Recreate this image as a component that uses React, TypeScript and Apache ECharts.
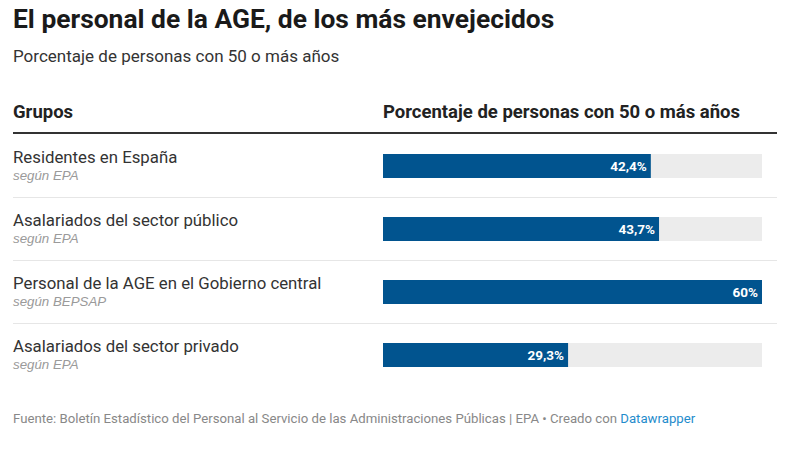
import React, { useEffect, useRef } from "react";
import * as echarts from "echarts";

const groups = [
  "Residentes en España",
  "Asalariados del sector público",
  "Personal de la AGE en el Gobierno central",
  "Asalariados del sector privado",
];
const sources = ["según EPA", "según EPA", "según BEPSAP", "según EPA"];
const values = [42.4, 43.7, 60, 29.3];
const axisMax = 60;

const titleText = "El personal de la AGE, de los más envejecidos";
const subtitleText = "Porcentaje de personas con 50 o más años";
const colHeaders = ["Grupos", "Porcentaje de personas con 50 o más años"];
const footerText = "Fuente: Boletín Estadístico del Personal al Servicio de las Administraciones Públicas | EPA • Creado con ";
const footerLink = "Datawrapper";

const FONT = "Roboto, 'Noto Sans', sans-serif";
const ITALIC_FONT = "'Liberation Sans', Arial, sans-serif";

export default function App() {
  const ref = useRef<HTMLDivElement>(null);
  useEffect(() => {
    if (!ref.current) return;
    const chart = echarts.init(ref.current, undefined, { renderer: "svg" });
    const gridTop = 134.5;
    const rowH = 63;
    const sepLines = groups.slice(1).map((_, i) => ({
      type: "line",
      shape: { x1: 13, y1: gridTop + rowH * (i + 1), x2: 777, y2: gridTop + rowH * (i + 1) },
      style: { stroke: "#e6e6e6", lineWidth: 1 },
      silent: true,
    }));
    chart.setOption({
      animation: false,
      backgroundColor: "#ffffff",
      textStyle: { fontFamily: FONT },
      title: {
        text: titleText,
        subtext: subtitleText,
        left: 13,
        top: 4,
        padding: 0,
        itemGap: 12,
        textStyle: { fontFamily: FONT, fontSize: 26.4, fontWeight: "bold", color: "#1a1a1a", lineHeight: 30 },
        subtextStyle: { fontFamily: FONT, fontSize: 17, color: "#333333", lineHeight: 20 },
      },
      graphic: [
        {
          type: "text",
          x: 13,
          y: 112,
          style: { text: colHeaders[0], font: `bold 18.5px ${FONT}`, fill: "#222222", verticalAlign: "middle" },
        },
        {
          type: "text",
          x: 383,
          y: 112,
          style: { text: colHeaders[1], font: `bold 18.5px ${FONT}`, fill: "#222222", verticalAlign: "middle" },
        },
        ...sepLines,
        {
          type: "line",
          shape: { x1: 13, y1: 133, x2: 777, y2: 133 },
          style: { stroke: "#333333", lineWidth: 2 },
          silent: true,
        },
        {
          type: "text",
          x: 13,
          y: 418,
          style: {
            text: `{a|${footerText}}{b|${footerLink}}`,
            verticalAlign: "middle",
            rich: {
              a: { fontFamily: FONT, fontSize: 13.2, fill: "#888888", color: "#888888" },
              b: { fontFamily: FONT, fontSize: 13.2, fill: "#1f8ccc", color: "#1f8ccc" },
            },
          },
        },
      ],
      grid: { left: 383, width: 379, top: gridTop, height: rowH * groups.length, containLabel: false },
      xAxis: {
        type: "value",
        min: 0,
        max: axisMax,
        show: false,
      },
      yAxis: {
        type: "category",
        inverse: true,
        data: groups,
        axisLine: { show: false },
        axisTick: { show: false },
        splitLine: { show: false },
        axisLabel: {
          align: "left",
          margin: 370,
          formatter: (value: string, idx: number) => `{n|${value}}\n{s|${sources[idx]}}`,
          rich: {
            n: { fontFamily: FONT, fontSize: 16.8, color: "#333333", lineHeight: 19 },
            s: { fontFamily: ITALIC_FONT, fontSize: 13.3, fontStyle: "italic", color: "#9a9a9a", lineHeight: 19 },
          },
        },
      },
      series: [
        {
          type: "bar",
          data: values,
          barWidth: 24,
          itemStyle: { color: "#01548f" },
          showBackground: true,
          backgroundStyle: { color: "#ececec" },
          label: {
            show: true,
            position: "insideRight",
            distance: 4,
            color: "#ffffff",
            fontFamily: FONT,
            fontSize: 13.5,
            fontWeight: "bold",
            formatter: (p: any) => `${String(p.value).replace(".", ",")}%`,
          },
        },
      ],
    });
    return () => chart.dispose();
  }, []);
  return (
    <div
      ref={ref}
      style={{ position: "fixed", left: 0, top: 0, width: 790, height: 452, background: "#fff" }}
    />
  );
}
